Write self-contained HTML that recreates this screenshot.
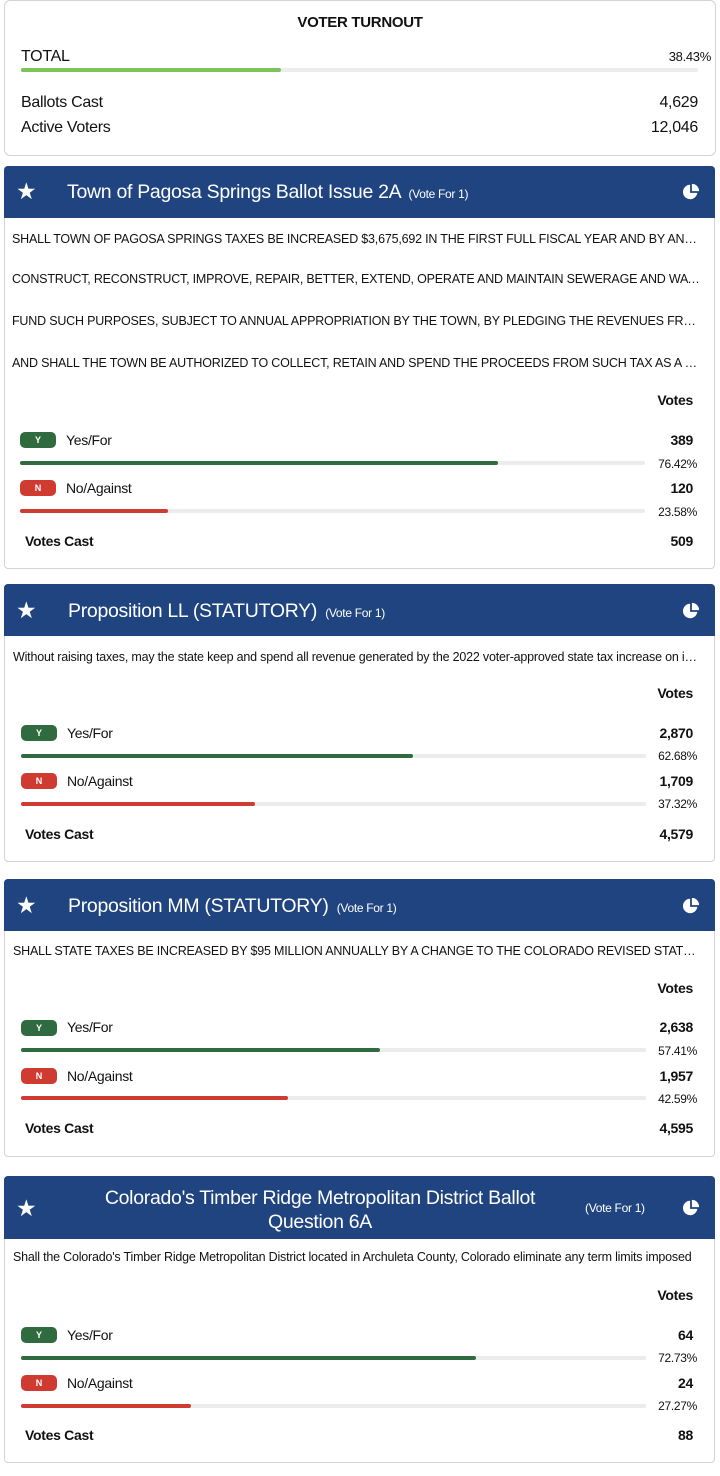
<!DOCTYPE html>
<html><head><meta charset="utf-8"><style>
*{margin:0;padding:0;box-sizing:border-box}
body{width:720px;height:1476px;background:#fff;position:relative;font-family:"Liberation Sans","DejaVu Sans",sans-serif;color:#111;overflow:hidden}
.a{position:absolute;white-space:nowrap;line-height:20px;letter-spacing:-0.3px}
.r{text-align:right}
.card{position:absolute;left:4px;width:711px;border:1px solid #d4d4d4;border-radius:4px}
.hdr{position:absolute;left:4px;width:711px;background:#1f4480;border-radius:4px 4px 0 0;color:#fff}
.bar{position:absolute;left:20px;width:625px;height:4px;background:#ececec;border-radius:2px}
.bar i{position:absolute;left:0;top:0;height:4px;border-radius:2px}
.g{background:#2f6b3e}.rd{background:#cf3a31}
.badge{position:absolute;left:20px;width:36px;height:16px;border-radius:5px;color:#fff;font-size:9px;font-weight:bold;text-align:center;line-height:16px}
.desc{position:absolute;left:12px;width:690px;font-size:12.5px;line-height:20px;white-space:nowrap;overflow:hidden;text-overflow:ellipsis;letter-spacing:-0.2px}
.st{position:absolute;left:16px;font-size:23px;color:#fff;line-height:24px}
</style></head><body>

<div class="card" style="top:0;height:156px;left:4px;width:712px;border-radius:6px"></div>
<div class="a" style="left:0;width:720px;text-align:center;top:13px;font-size:15px;font-weight:bold">VOTER TURNOUT</div>
<div class="a" style="left:21px;top:47px;font-size:16px">TOTAL</div>
<div class="a r" style="right:9px;top:47px;font-size:13px">38.43%</div>
<div class="bar" style="top:68px;width:677px;left:21px"><i style="width:260px;background:#7cc35a"></i></div>
<div class="a" style="left:21px;top:93px;font-size:16px">Ballots Cast</div>
<div class="a r" style="right:22px;top:93px;font-size:16px">4,629</div>
<div class="a" style="left:21px;top:118px;font-size:16px">Active Voters</div>
<div class="a r" style="right:22px;top:118px;font-size:16px">12,046</div>

<svg width="0" height="0" style="position:absolute"><defs>
<symbol id="pie" viewBox="0 0 20 20"><path d="M9 2A8 8 0 1 0 17 11H9Z" fill="#fff"/><path d="M11 1A8 8 0 0 1 19 9H11Z" fill="#fff"/></symbol>
</defs></svg>

<div class="card" style="top:166px;height:403px"></div>
<div class="hdr" style="top:166px;height:52px"></div>
<div class="st" style="top:179px">★</div>
<div class="a" style="left:67px;top:182px;font-size:19.5px;color:#fff">Town of Pagosa Springs Ballot Issue 2A <span style="font-size:12px">&nbsp;(Vote For 1)</span></div>
<svg style="position:absolute;left:682px;top:183px" width="18" height="18"><use href="#pie"/></svg>
<div class="desc" style="top:229px">SHALL TOWN OF PAGOSA SPRINGS TAXES BE INCREASED $3,675,692 IN THE FIRST FULL FISCAL YEAR AND BY ANNUAL AMOUNTS</div>
<div class="desc" style="top:269px">CONSTRUCT, RECONSTRUCT, IMPROVE, REPAIR, BETTER, EXTEND, OPERATE AND MAINTAIN SEWERAGE AND WATER</div>
<div class="desc" style="top:311px">FUND SUCH PURPOSES, SUBJECT TO ANNUAL APPROPRIATION BY THE TOWN, BY PLEDGING THE REVENUES FROM</div>
<div class="desc" style="top:353px">AND SHALL THE TOWN BE AUTHORIZED TO COLLECT, RETAIN AND SPEND THE PROCEEDS FROM SUCH TAX AS A VOTER-APPROVED</div>
<div class="a r" style="right:27px;top:390px;font-size:14px;font-weight:bold">Votes</div>
<div class="badge g" style="top:432px">Y</div>
<div class="a" style="left:66px;top:430px;font-size:14px">Yes/For</div>
<div class="a r" style="right:27px;top:430px;font-size:14px;font-weight:bold">389</div>
<div class="bar" style="top:461px"><i class="g" style="width:478px"></i></div>
<div class="a r" style="right:23px;top:454px;font-size:12px">76.42%</div>
<div class="badge rd" style="top:480px">N</div>
<div class="a" style="left:66px;top:478px;font-size:14px">No/Against</div>
<div class="a r" style="right:27px;top:478px;font-size:14px;font-weight:bold">120</div>
<div class="bar" style="top:509px"><i class="rd" style="width:148px"></i></div>
<div class="a r" style="right:23px;top:502px;font-size:12px">23.58%</div>
<div class="a" style="left:25px;top:531px;font-size:14px;font-weight:bold">Votes Cast</div>
<div class="a r" style="right:27px;top:531px;font-size:14px;font-weight:bold">509</div>

<div class="card" style="top:584px;height:278px"></div>
<div class="hdr" style="top:584px;height:52px"></div>
<div class="st" style="top:598px">★</div>
<div class="a" style="left:68px;top:601px;font-size:19.5px;color:#fff">Proposition LL (STATUTORY) <span style="font-size:12px">&nbsp;(Vote For 1)</span></div>
<svg style="position:absolute;left:682px;top:602px" width="18" height="18"><use href="#pie"/></svg>
<div class="desc" style="top:647px;left:13px">Without raising taxes, may the state keep and spend all revenue generated by the 2022 voter-approved state tax increase on income</div>
<div class="a r" style="right:27px;top:683px;font-size:14px;font-weight:bold">Votes</div>
<div class="badge g" style="top:725px;left:21px">Y</div>
<div class="a" style="left:67px;top:723px;font-size:14px">Yes/For</div>
<div class="a r" style="right:27px;top:723px;font-size:14px;font-weight:bold">2,870</div>
<div class="bar" style="top:754px;left:21px"><i class="g" style="width:392px"></i></div>
<div class="a r" style="right:23px;top:746px;font-size:12px">62.68%</div>
<div class="badge rd" style="top:773px;left:21px">N</div>
<div class="a" style="left:67px;top:771px;font-size:14px">No/Against</div>
<div class="a r" style="right:27px;top:771px;font-size:14px;font-weight:bold">1,709</div>
<div class="bar" style="top:802px;left:21px"><i class="rd" style="width:234px"></i></div>
<div class="a r" style="right:23px;top:794px;font-size:12px">37.32%</div>
<div class="a" style="left:25px;top:824px;font-size:14px;font-weight:bold">Votes Cast</div>
<div class="a r" style="right:27px;top:824px;font-size:14px;font-weight:bold">4,579</div>

<div class="card" style="top:879px;height:278px"></div>
<div class="hdr" style="top:879px;height:52px"></div>
<div class="st" style="top:893px">★</div>
<div class="a" style="left:68px;top:896px;font-size:19.5px;color:#fff">Proposition MM (STATUTORY) <span style="font-size:12px">&nbsp;(Vote For 1)</span></div>
<svg style="position:absolute;left:682px;top:897px" width="18" height="18"><use href="#pie"/></svg>
<div class="desc" style="top:941px;left:13px">SHALL STATE TAXES BE INCREASED BY $95 MILLION ANNUALLY BY A CHANGE TO THE COLORADO REVISED STATUTES</div>
<div class="a r" style="right:27px;top:978px;font-size:14px;font-weight:bold">Votes</div>
<div class="badge g" style="top:1020px;left:21px">Y</div>
<div class="a" style="left:67px;top:1017px;font-size:14px">Yes/For</div>
<div class="a r" style="right:27px;top:1017px;font-size:14px;font-weight:bold">2,638</div>
<div class="bar" style="top:1048px;left:21px"><i class="g" style="width:359px"></i></div>
<div class="a r" style="right:23px;top:1041px;font-size:12px">57.41%</div>
<div class="badge rd" style="top:1068px;left:21px">N</div>
<div class="a" style="left:67px;top:1066px;font-size:14px">No/Against</div>
<div class="a r" style="right:27px;top:1066px;font-size:14px;font-weight:bold">1,957</div>
<div class="bar" style="top:1096px;left:21px"><i class="rd" style="width:267px"></i></div>
<div class="a r" style="right:23px;top:1089px;font-size:12px">42.59%</div>
<div class="a" style="left:25px;top:1118px;font-size:14px;font-weight:bold">Votes Cast</div>
<div class="a r" style="right:27px;top:1118px;font-size:14px;font-weight:bold">4,595</div>

<div class="card" style="top:1176px;height:287px"></div>
<div class="hdr" style="top:1176px;height:63px"></div>
<div class="st" style="top:1196px">★</div>
<div class="a" style="left:60px;width:520px;text-align:center;top:1186px;font-size:19.5px;line-height:24px;color:#fff;white-space:normal">Colorado's Timber Ridge Metropolitan District Ballot<br>Question 6A</div>
<div class="a" style="left:585px;top:1198px;font-size:12px;color:#fff">(Vote For 1)</div>
<svg style="position:absolute;left:682px;top:1199px" width="18" height="18"><use href="#pie"/></svg>
<div class="desc" style="top:1247px;left:13px">Shall the Colorado's Timber Ridge Metropolitan District located in Archuleta County, Colorado eliminate any term limits imposed</div>
<div class="a r" style="right:27px;top:1285px;font-size:14px;font-weight:bold">Votes</div>
<div class="badge g" style="top:1327px;left:21px">Y</div>
<div class="a" style="left:67px;top:1325px;font-size:14px">Yes/For</div>
<div class="a r" style="right:27px;top:1325px;font-size:14px;font-weight:bold">64</div>
<div class="bar" style="top:1356px;left:21px"><i class="g" style="width:455px"></i></div>
<div class="a r" style="right:23px;top:1348px;font-size:12px">72.73%</div>
<div class="badge rd" style="top:1375px;left:21px">N</div>
<div class="a" style="left:67px;top:1373px;font-size:14px">No/Against</div>
<div class="a r" style="right:27px;top:1373px;font-size:14px;font-weight:bold">24</div>
<div class="bar" style="top:1404px;left:21px"><i class="rd" style="width:170px"></i></div>
<div class="a r" style="right:23px;top:1396px;font-size:12px">27.27%</div>
<div class="a" style="left:25px;top:1425px;font-size:14px;font-weight:bold">Votes Cast</div>
<div class="a r" style="right:27px;top:1425px;font-size:14px;font-weight:bold">88</div>

</body></html>
